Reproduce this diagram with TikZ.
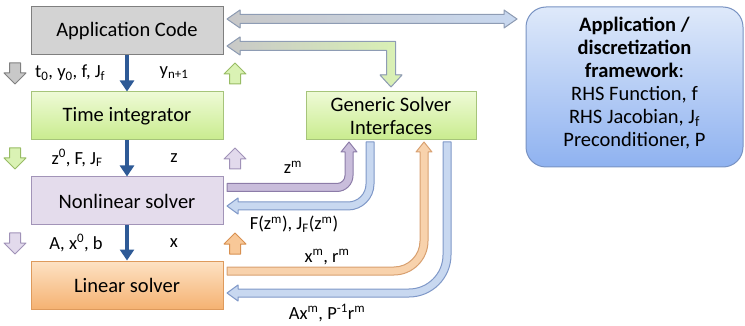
\documentclass[tikz,border=0pt]{standalone}
\usepackage{fontspec}
\setmainfont{Carlito}
\usetikzlibrary{arrows.meta}
\definecolor{appfill}{HTML}{D3D3D3}
\definecolor{appdraw}{HTML}{7F7F7F}
\definecolor{grntop}{HTML}{EEFAD6}
\definecolor{grnbot}{HTML}{C9EC8E}
\definecolor{grndraw}{HTML}{A6C47A}
\definecolor{lavfill}{HTML}{E4DCEC}
\definecolor{lavdraw}{HTML}{A294B8}
\definecolor{orgtop}{HTML}{FDE2C4}
\definecolor{orgbot}{HTML}{F5B272}
\definecolor{orgdraw}{HTML}{DE9A5C}
\definecolor{bluetop}{HTML}{DEE9FA}
\definecolor{bluebot}{HTML}{8FB2F0}
\definecolor{bluedraw}{HTML}{7892C2}
\definecolor{flowblue}{HTML}{2E5A96}
\definecolor{purfill}{HTML}{C9BDDB}
\definecolor{purdraw}{HTML}{8C7CA8}
\definecolor{lbfill}{HTML}{C8D8F0}
\definecolor{lbdraw}{HTML}{7F98C8}
\definecolor{orfill}{HTML}{F8D2AC}
\definecolor{ordraw}{HTML}{D8A070}
\definecolor{grayarr}{HTML}{C8C8C8}
\definecolor{grayarrd}{HTML}{808080}
\definecolor{grnarr}{HTML}{DAF2B4}
\definecolor{grnarrd}{HTML}{98BC64}
\definecolor{lavarr}{HTML}{E2DAEC}
\definecolor{lavarrd}{HTML}{A092B8}
\definecolor{orarr}{HTML}{F8C898}
\definecolor{orarrd}{HTML}{D89050}
\definecolor{bigdraw}{HTML}{8E9CB4}
% small down / up block arrows: x centre, y top, style
\newcommand\mydownarrow[3]{%
  \filldraw[#3] (#1-5.5,#2) -- (#1+5.5,#2) -- (#1+5.5,#2+10) -- (#1+11,#2+10)
    -- (#1,#2+21) -- (#1-11,#2+10) -- (#1-5.5,#2+10) -- cycle;}
\newcommand\myuparrow[3]{%
  \filldraw[#3] (#1,#2) -- (#1+11,#2+11) -- (#1+5.5,#2+11) -- (#1+5.5,#2+21)
    -- (#1-5.5,#2+21) -- (#1-5.5,#2+11) -- (#1-11,#2+11) -- cycle;}
% bent arrow: tail x, horiz y, vert x, radius, tip y, style
\newcommand\mybendup[6]{%
  \filldraw[#6] (#1,#2+4) -- (#3-#4,#2+4)
    .. controls (#3-0.45*#4+2.2,#2+4) and (#3+4,#2-0.45*#4+2.2) .. (#3+4,#2-#4)
    -- (#3+4,#5+10) -- (#3+8,#5+10) -- (#3,#5) -- (#3-8,#5+10) -- (#3-4,#5+10)
    -- (#3-4,#2-#4)
    .. controls (#3-4,#2-0.45*#4-2.2) and (#3-0.45*#4-2.2,#2-4) .. (#3-#4,#2-4)
    -- (#1,#2-4) -- cycle;}
% bent arrow: start y, vert x, horiz y, radius, tip x, style
\newcommand\mybenddown[6]{%
  \filldraw[#6] (#2-4,#1) -- (#2+4,#1) -- (#2+4,#3-#4)
    .. controls (#2+4,#3-0.45*#4+2.2) and (#2-0.45*#4+2.2,#3+4) .. (#2-#4,#3+4)
    -- (#5+11,#3+4) -- (#5+11,#3+8) -- (#5,#3) -- (#5+11,#3-8) -- (#5+11,#3-4)
    -- (#2-#4,#3-4)
    .. controls (#2-0.45*#4-2.2,#3-4) and (#2-4,#3-0.45*#4-2.2) .. (#2-4,#3-#4)
    -- cycle;}
\begin{document}
\begin{tikzpicture}[x=1pt,y=-1pt,
  box/.style={draw, line width=1pt, minimum width=192pt, minimum height=48pt,
    inner sep=0pt, font=\fontsize{20.5}{23}\selectfont, text=black},
  lbl/.style={inner sep=0pt, font=\fontsize{18.5}{22}\selectfont, text=black},
  flow/.style={draw=flowblue, line width=4pt, -{Triangle[width=14pt,length=11pt]}},
  arrline/.style={line width=1pt, line join=round}]
\useasboundingbox (0,0) rectangle (745,326);

% boxes
\node[box, fill=appfill, draw=appdraw] (app) at (127,31) {Application Code};
\node[box, top color=grntop, bottom color=grnbot, draw=grndraw] (ti) at (127,116) {Time integrator};
\node[box, fill=lavfill, draw=lavdraw] (nl) at (127,201) {Nonlinear solver};
\node[box, top color=orgtop, bottom color=orgbot, draw=orgdraw] (ls) at (127,285) {Linear solver};
\node[box, minimum width=170pt, top color=grntop, bottom color=grnbot, draw=grndraw, align=center] (gsi) at (391,116) {Generic Solver\\Interfaces};
\node[draw=bluedraw, line width=1pt, rounded corners=20pt, minimum width=217pt, minimum height=160pt,
  top color=bluetop, bottom color=bluebot] (fw) at (634.5,87) {};
\node[inner sep=0pt, align=center, font=\fontsize{20.5}{23}\selectfont, text=black] (fwtext) at (634.5,83)
  {\textbf{Application /}\\\textbf{discretization}\\\textbf{framework}:\\RHS Function, f\\RHS Jacobian, J\textsubscript{f}\\Preconditioner, P};

% main flow
\draw[flow] (app.south) -- (ti.north);
\draw[flow] (ti.south) -- (nl.north);
\draw[flow] (nl.south) -- (ls.north);

% small block arrows
\mydownarrow{15}{63}{arrline, fill=grayarr, draw=grayarrd}
\mydownarrow{15}{148}{arrline, fill=grnarr, draw=grnarrd}
\mydownarrow{15}{233}{arrline, fill=lavarr, draw=lavarrd}
\myuparrow{235}{63}{arrline, fill=grnarr, draw=grnarrd}
\myuparrow{235}{148}{arrline, fill=lavarr, draw=lavarrd}
\myuparrow{235}{233}{arrline, fill=orarr, draw=orarrd}

% labels between boxes
\node[lbl, anchor=west] (l1) at (35,73) {t\textsubscript{0}, y\textsubscript{0}, f, J\textsubscript{f}};
\node[lbl] (l2) at (174,73) {y\textsubscript{n+1}};
\node[lbl] (l3) at (77,158) {z\textsuperscript{0}, F, J\textsubscript{F}};
\node[lbl] (l4) at (174,158) {z};
\node[lbl] (l5) at (76,243) {A, x\textsuperscript{0}, b};
\node[lbl] (l6) at (174,243) {x};

% big hollow arrows at top
\filldraw[arrline, draw=bigdraw, left color=grayarr, right color=lbfill]
  (227,19) -- (240,10) -- (240,14.5) -- (504,14.5) -- (504,10) -- (517,19)
  -- (504,28) -- (504,23.5) -- (240,23.5) -- (240,28) -- cycle;
\filldraw[arrline, draw=bigdraw, left color=grayarr, right color=grnarr]
  (227,46) -- (240,37) -- (240,41.5) -- (395.5,41.5) -- (395.5,75) -- (402,75)
  -- (391,87) -- (380,75) -- (386.5,75) -- (386.5,50.5) -- (240,50.5) -- (240,55) -- cycle;

% solver interface arrows
\mybendup{227}{187.5}{349}{12}{142}{arrline, fill=purfill, draw=purdraw}
\mybenddown{142}{370}{206}{22}{227}{arrline, fill=lbfill, draw=lbdraw}
\mybendup{227}{271}{424}{30}{142}{arrline, fill=orfill, draw=ordraw}
\mybenddown{142}{447}{293}{38}{227}{arrline, fill=lbfill, draw=lbdraw}

\node[lbl] (m1) at (293,167) {z\textsuperscript{m}};
\node[lbl] (m2) at (294,224) {F(z\textsuperscript{m}), J\textsubscript{F}(z\textsuperscript{m})};
\node[lbl] (m3) at (327,257) {x\textsuperscript{m}, r\textsuperscript{m}};
\node[lbl] (m4) at (327,313) {Ax\textsuperscript{m}, P\textsuperscript{-1}r\textsuperscript{m}};
\end{tikzpicture}
\end{document}
